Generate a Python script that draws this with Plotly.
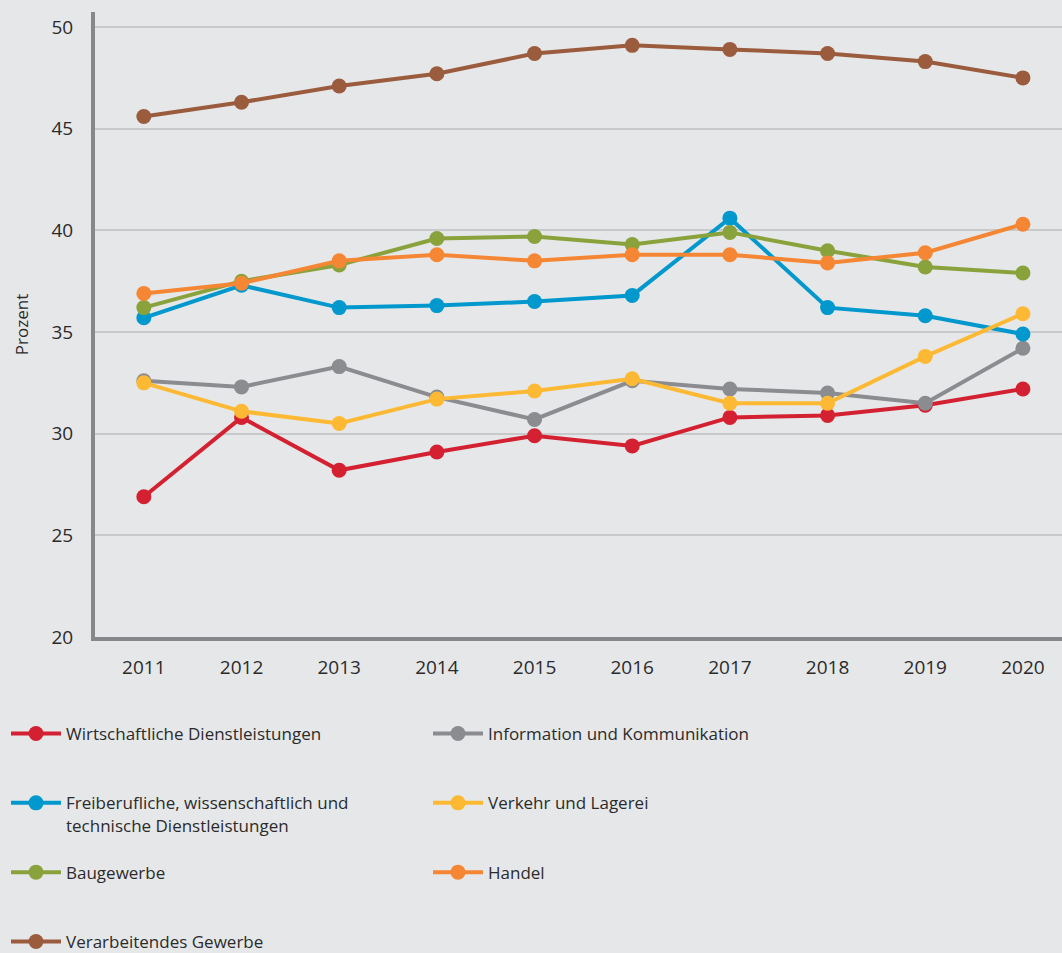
import plotly.graph_objects as go

years = [2011, 2012, 2013, 2014, 2015, 2016, 2017, 2018, 2019, 2020]

# Anteile in Prozent je Wirtschaftszweig
wirtschaftliche = [26.9, 30.8, 28.2, 29.1, 29.9, 29.4, 30.8, 30.9, 31.4, 32.2]
information = [32.6, 32.3, 33.3, 31.8, 30.7, 32.6, 32.2, 32.0, 31.5, 34.2]
freiberufliche = [35.7, 37.3, 36.2, 36.3, 36.5, 36.8, 40.6, 36.2, 35.8, 34.9]
verkehr = [32.5, 31.1, 30.5, 31.7, 32.1, 32.7, 31.5, 31.5, 33.8, 35.9]
baugewerbe = [36.2, 37.5, 38.3, 39.6, 39.7, 39.3, 39.9, 39.0, 38.2, 37.9]
handel = [36.9, 37.4, 38.5, 38.8, 38.5, 38.8, 38.8, 38.4, 38.9, 40.3]
verarbeitendes = [45.6, 46.3, 47.1, 47.7, 48.7, 49.1, 48.9, 48.7, 48.3, 47.5]

y_ticks = [20, 25, 30, 35, 40, 45, 50]

# Reihenfolge = Legendenreihenfolge (zwei Spalten, zeilenweise)
series = [
    ('Wirtschaftliche Dienstleistungen', wirtschaftliche, '#d42132', 2),
    ('Information und Kommunikation', information, '#8b8c90', 2),
    ('Freiberufliche, wissenschaftlich und<br>technische Dienstleistungen', freiberufliche, '#0098cd', 1),
    ('Verkehr und Lagerei', verkehr, '#fdb933', 2),
    ('Baugewerbe', baugewerbe, '#8aa23c', 2),
    ('Handel', handel, '#f58634', 2),
    ('Verarbeitendes Gewerbe', verarbeitendes, '#9a5c3d', 0),
]

fig = go.Figure()

for name, values, color, pad in series:
    fig.add_trace(go.Scatter(
        x=years,
        y=values,
        name=name + '<br>&nbsp;' * pad,
        mode='lines+markers',
        line=dict(color=color, width=4),
        marker=dict(color=color, size=15),
    ))

fig.update_layout(
    width=1062,
    height=953,
    paper_bgcolor='#e6e7e9',
    plot_bgcolor='#e6e7e9',
    font=dict(family='Open Sans', size=19, color='#2b2b2b'),
    margin=dict(l=95, r=0, t=12, b=316),
    showlegend=True,
    legend=dict(
        orientation='h',
        xref='container',
        yref='container',
        x=6 / 1062,
        y=1 - 716 / 953,
        xanchor='left',
        yanchor='top',
        entrywidth=357,
        entrywidthmode='pixels',
        itemwidth=50,
        valign='top',
        font=dict(size=17),
        bgcolor='rgba(0,0,0,0)',
    ),
    xaxis=dict(
        range=[2010.5, 2020.4],
        tickvals=years,
        showgrid=False,
        zeroline=False,
        showline=True,
        linecolor='#87888b',
        linewidth=4,
        ticks='',
        ticklabelstandoff=10,
    ),
    yaxis=dict(
        range=[20, 50.74],
        tickvals=y_ticks,
        showgrid=True,
        gridcolor='#c8c9cb',
        gridwidth=2,
        zeroline=False,
        showline=True,
        linecolor='#87888b',
        linewidth=4,
        ticks='',
        ticklabelstandoff=14,
        title=dict(text='Prozent', font=dict(size=17), standoff=20),
    ),
)

fig.write_html('out.html', config={'displayModeBar': False},
               post_script="document.body.style.margin='0';")
